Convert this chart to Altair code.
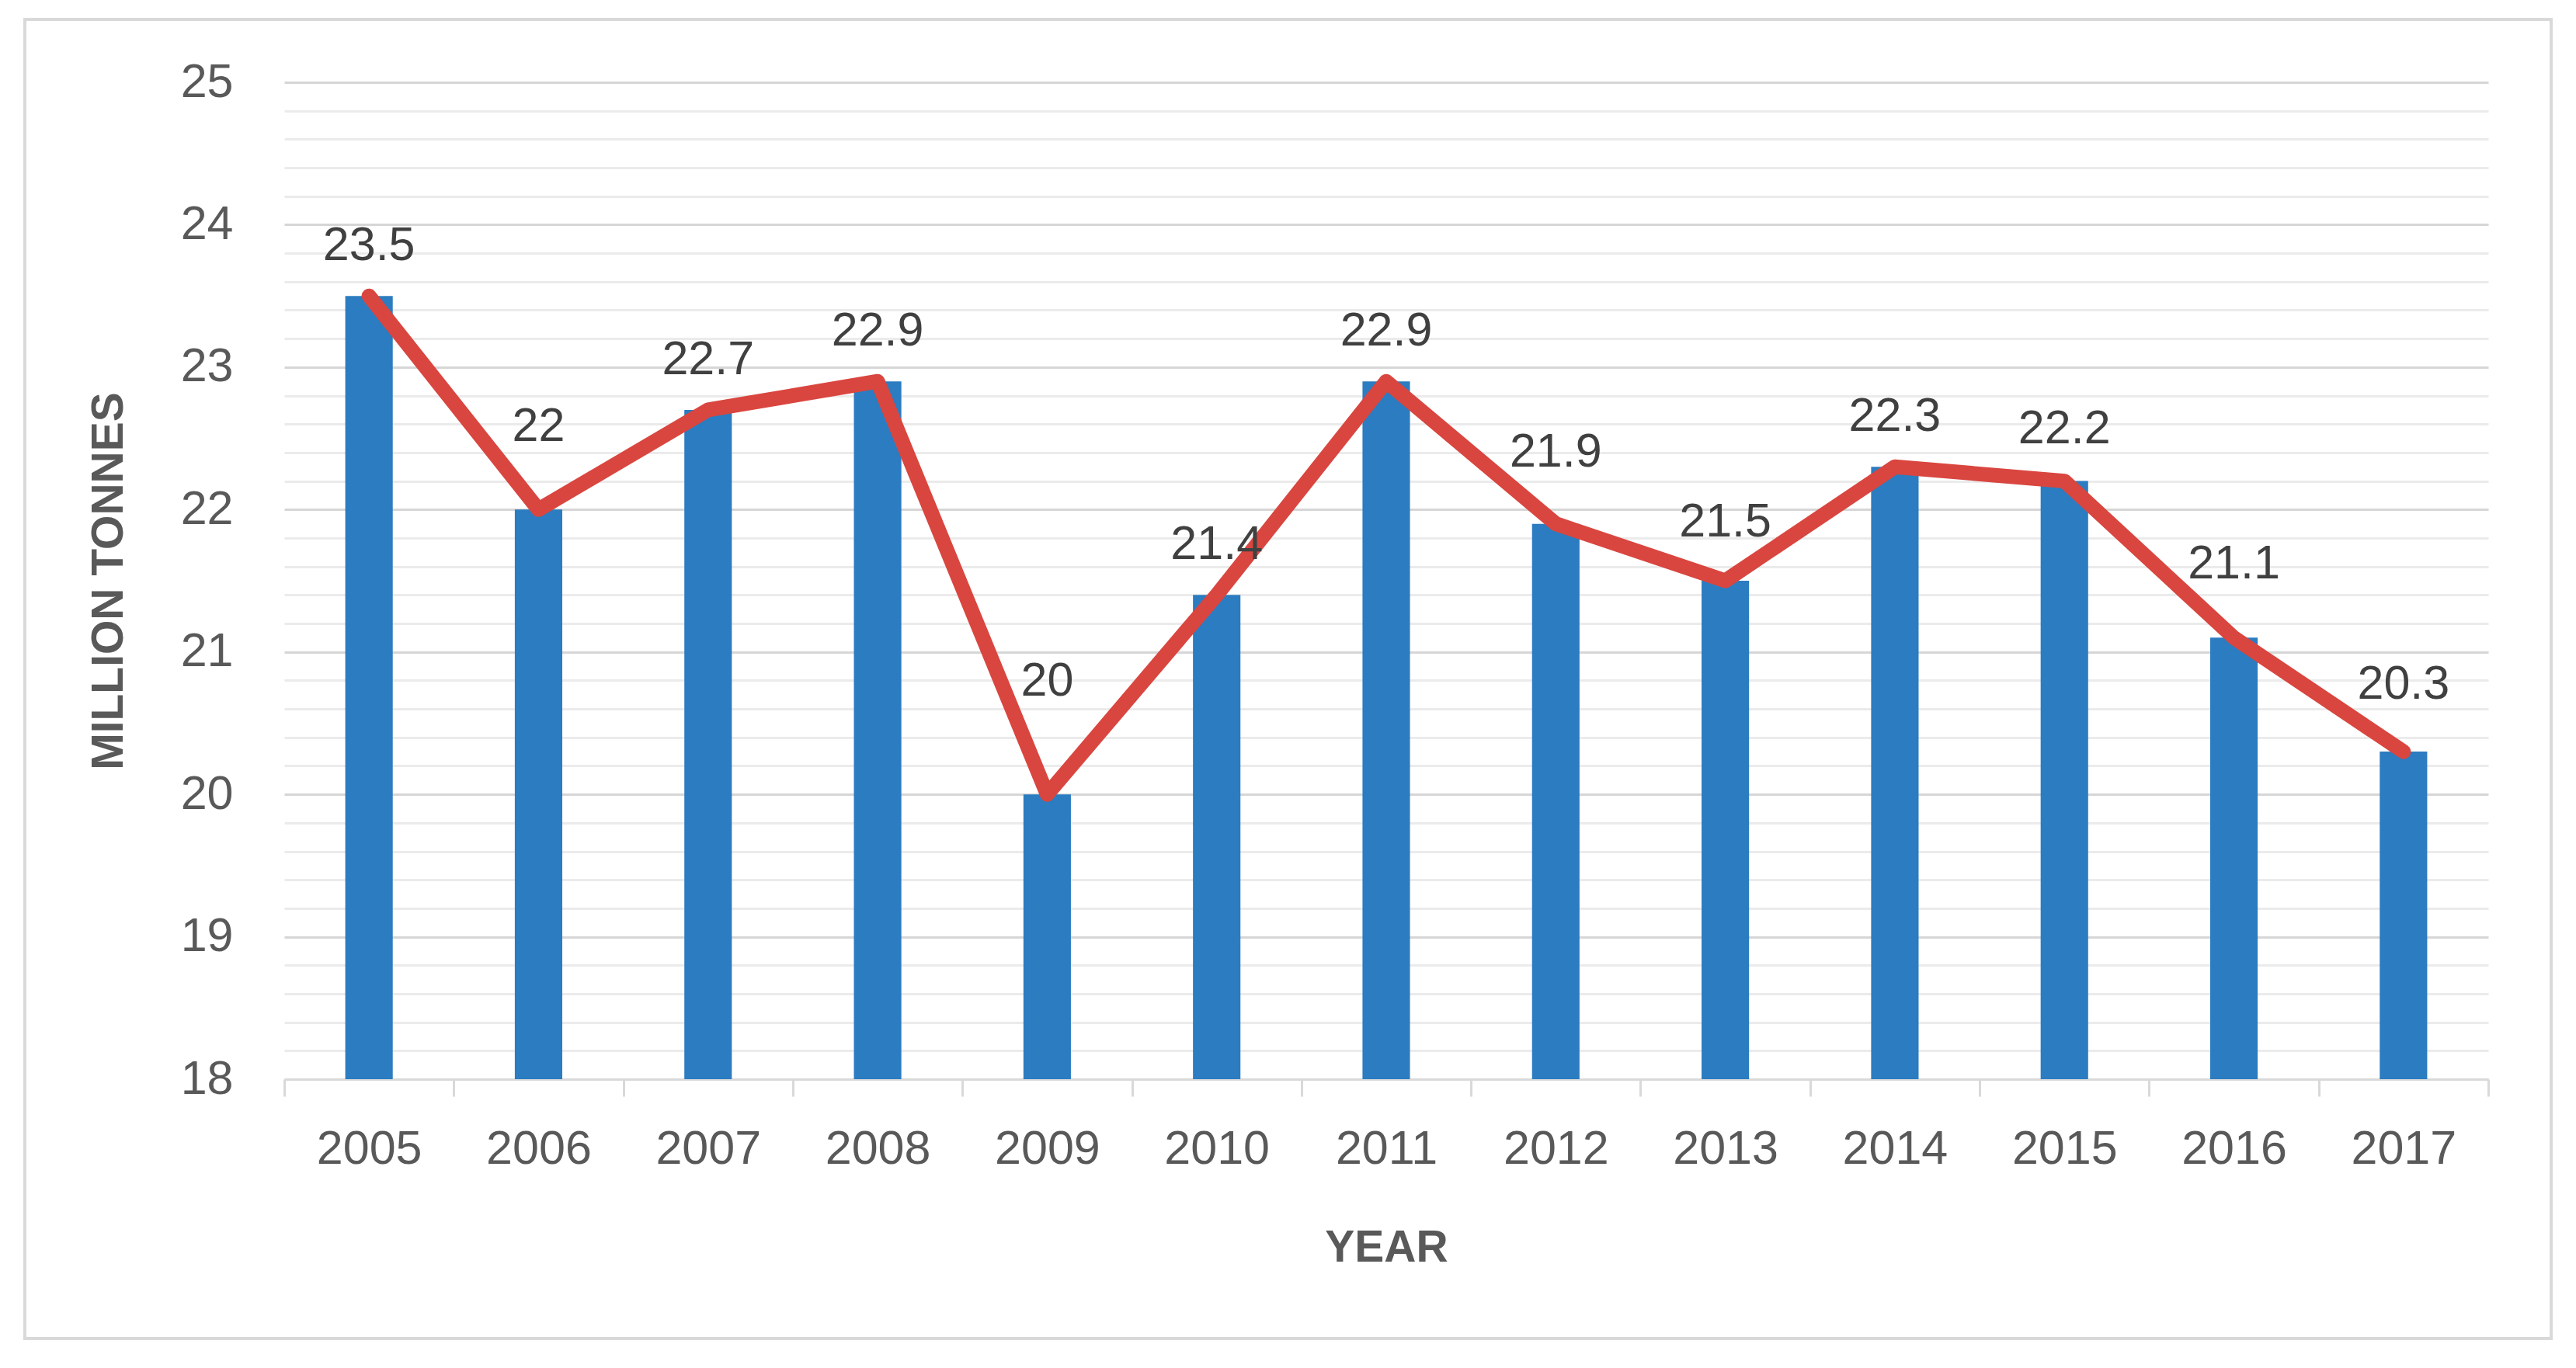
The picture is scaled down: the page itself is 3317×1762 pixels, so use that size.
import altair as alt
import pandas as pd

years = ["2005", "2006", "2007", "2008", "2009", "2010", "2011",
         "2012", "2013", "2014", "2015", "2016", "2017"]
values = [23.5, 22.0, 22.7, 22.9, 20.0, 21.4, 22.9, 21.9, 21.5, 22.3, 22.2, 21.1, 20.3]
y_min, y_max = 18, 25
grid_values = [round(18 + 0.2 * i, 1) for i in range(36)]

df = pd.DataFrame({"year": years, "value": values})

W, H = 2838, 1284
px_per_unit = H / (y_max - y_min)
FONT = "Liberation Sans"
BLUE = "#2B7CC1"
RED = "#D9463F"
GRAY_TXT = "#595959"
LBL_TXT = "#404040"

is_major = "abs(datum.value - round(datum.value)) < 0.01"

x_enc = alt.X(
    "year:O",
    sort=years,
    scale=alt.Scale(paddingInner=0, paddingOuter=0),
    axis=alt.Axis(
        title="YEAR",
        labelAngle=0,
        labelFont=FONT,
        labelFontSize=61,
        labelColor=GRAY_TXT,
        labelPadding=38,
        labelBaseline="top",
        ticks=True,
        tickBand="extent",
        tickSize=22,
        tickColor="#D9D9D9",
        tickWidth=3,
        domainColor="#D9D9D9",
        domainWidth=3,
        grid=False,
        titleFont=FONT,
        titleFontSize=57,
        titleFontWeight="bold",
        titleColor=GRAY_TXT,
        titleX=W / 2,
        titleY=217,
        titleBaseline="middle",
        titleAlign="center",
    ),
)

y_scale = alt.Scale(domain=[y_min, y_max], nice=False, zero=False)

bars = alt.Chart(df).mark_bar(color=BLUE, width=alt.RelativeBandSize(0.28)).encode(
    x=x_enc,
    y=alt.Y(
        "value:Q",
        scale=y_scale,
        axis=alt.Axis(
            title="MILLION TONNES",
            values=grid_values,
            tickCount=100,
            labelExpr=f"{is_major} ? format(datum.value, 'd') : ''",
            labelOverlap=False,
            labelFont=FONT,
            labelFontSize=61,
            labelColor=GRAY_TXT,
            labelPadding=66,
            ticks=False,
            tickSize=0,
            domain=False,
            grid=True,
            gridColor=alt.condition(is_major, alt.value("#D6D6D6"), alt.value("#EBEBEB")),
            gridWidth=3,
            titleFont=FONT,
            titleFontSize=57,
            titleFontWeight="bold",
            titleColor=GRAY_TXT,
            titleAngle=270,
            titleX=-226,
            titleY=H / 2,
            titleBaseline="middle",
            titleAlign="center",
        ),
    ),
    y2=alt.datum(y_min),
)

line = alt.Chart(df).mark_line(
    color=RED, strokeWidth=19, strokeJoin="round", strokeCap="round"
).encode(
    x=alt.X("year:O", sort=years),
    y=alt.Y("value:Q", scale=y_scale),
)

labels = alt.Chart(df).transform_window(
    prev="lag(value)", sort=[alt.SortField("year")]
).transform_calculate(
    drop="datum.prev == null ? 0 : max(0, datum.prev - datum.value)",
    label_y=f"datum.value + (46 + 28 * datum.drop) / {px_per_unit}",
    label_txt="format(datum.value, '.1~f')",
).mark_text(
    font=FONT, fontSize=61, color=LBL_TXT, baseline="alphabetic", align="center"
).encode(
    x=alt.X("year:O", sort=years),
    y=alt.Y("label_y:Q", scale=y_scale),
    text="label_txt:N",
)

frame = alt.Chart(alt.Data(values=[{"f": 1}])).mark_rect(
    filled=False, stroke="#D9D9D9", strokeWidth=4, clip=False
).encode(
    x=alt.value(-334), x2=alt.value(2919), y=alt.value(-81), y2=alt.value(1618)
)

chart = alt.layer(frame, bars, line, labels).properties(
    width=W,
    height=H,
    autosize=alt.AutoSizeParams(type="none"),
    padding={"left": 358, "top": 98, "right": 100, "bottom": 350},
).configure(background="white").configure_view(stroke=None)

chart.save("out.html", embed_options={"renderer": "svg", "actions": False})
